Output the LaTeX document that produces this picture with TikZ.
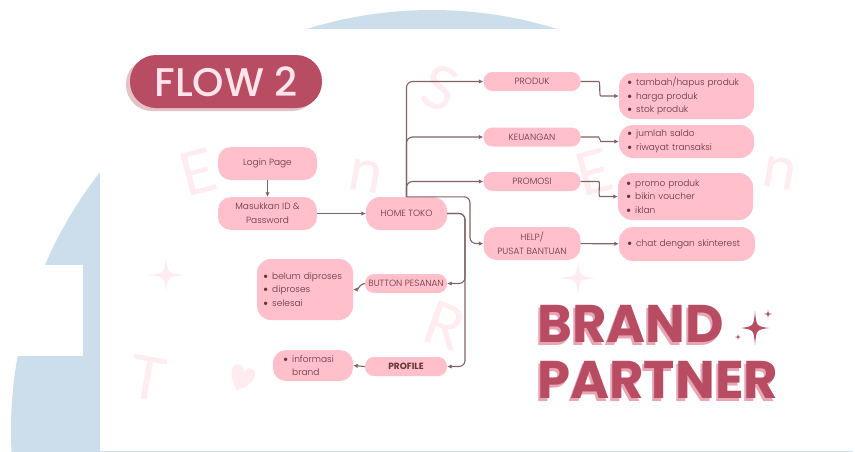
\documentclass[tikz,border=0pt]{standalone}
\usepackage{fontspec}
\setmainfont{Lato}
\newfontfamily\flowfont{Poppins}
\newfontfamily\flbullet{Lato}
\IfFontExistsTF{Poppins Light}{\newfontfamily\flbody{Poppins Light}}{\newfontfamily\flbody{Poppins}}
\IfFontExistsTF{Poppins Medium}{\newfontfamily\fltitle{Poppins Medium}}{\newfontfamily\fltitle{Poppins}}
\usetikzlibrary{arrows.meta,positioning}
\definecolor{flpink}{RGB}{255,191,203}
\definecolor{flrose}{RGB}{183,76,98}
\definecolor{flshade}{RGB}{226,196,200}
\definecolor{flpale}{RGB}{255,228,235}
\definecolor{flline}{RGB}{128,100,100}
\definecolor{fltext}{RGB}{100,55,55}
\definecolor{flblue}{RGB}{204,221,236}
\definecolor{flmarkc}{RGB}{254,236,240}
\definecolor{flbrandsh}{RGB}{232,165,180}
\newcommand{\flitem}[1]{{\flbullet\textbullet}\hspace{4pt}#1}
\tikzset{
  flnode/.style={fill=flpink, rounded corners=9pt, text=fltext, align=center,
    minimum width=97pt, minimum height=19pt, inner sep=1.5pt,
    font=\flbody\fontsize{9}{14}\selectfont},
  fllist/.style={fill=flpink, rounded corners=13pt, text=fltext, align=left,
    inner xsep=8pt, inner ysep=2pt, font=\flbody\fontsize{9}{13.7}\selectfont},
  flarr/.style={-{Latex[length=4.5pt,width=4.5pt]}, line width=1.1pt, draw=flline,
    rounded corners=6pt},
  flmark/.style={text=flmarkc, font=\fontsize{60}{60}\selectfont},
  sparkle/.pic={\fill (0,-1) .. controls (0.1,-0.1) .. (1,0) .. controls (0.1,0.1) .. (0,1)
    .. controls (-0.1,0.1) .. (-1,0) .. controls (-0.1,-0.1) .. cycle;}
}
\begin{document}
\begin{tikzpicture}[x=1pt, y=-1pt]
\useasboundingbox (0,0) rectangle (855,451);
\clip (0,0) rectangle (855,451);
% background
\fill[flblue] (432,431) circle[radius=421];
\fill[white] (100,29) rectangle (855,451);
\fill[white] (0,265) rectangle (83,356);
% faint letters behind
\foreach \wx/\wy/\wr/\wt [count=\wi] in {198/172/15/E, 366/176/-10/n, 440/88/-20/S,
    594/172/15/E, 780/173/-10/n, 445/326/-20/R, 148/378/-10/T}
  \node[flmark, rotate=\wr] (wm\wi) at (\wx,\wy) {\wt};
\pic[flmarkc, xscale=18, yscale=16] at (166,275) {sparkle};
\pic[flmarkc, xscale=18, yscale=16] at (578,278) {sparkle};
\fill[flmarkc, rotate around={-20:(242,377)}] (242,391) .. controls (228,381) and (227,366) .. (236,366)
  .. controls (240,366) and (242,369) .. (242,372) .. controls (242,369) and (244,366) .. (248,366)
  .. controls (257,366) and (256,381) .. cycle;

% title
\node[fill=flshade, rounded corners=26pt, minimum width=192pt, minimum height=53pt] (flowsh) at (222,84.5) {};
\node[fill=flrose, rounded corners=26pt, minimum width=192pt, minimum height=53pt,
  text=flpale, font=\fltitle\fontsize{40}{40}\selectfont] (flow) at (226,81.5) {FLOW 2};

% left column
\node[flnode, minimum width=99pt, minimum height=33pt, rounded corners=13pt] (login) at (267.5,163.5) {Login Page};
\node[flnode, minimum width=99pt, minimum height=33pt, rounded corners=13pt] (masuk) at (267.5,213.5) {Masukkan ID \&\\Password};
\node[flnode, minimum width=81pt, minimum height=33pt, rounded corners=14pt] (home) at (406.5,213.5) {HOME TOKO};
\node[flnode, minimum width=82pt] (pesan) at (406,283.5) {BUTTON PESANAN};
\node[flnode, minimum width=82pt, font=\flowfont\bfseries\fontsize{9}{11}\selectfont] (profil) at (406,366.5) {PROFILE};
\node[fllist, text width=84pt, inner xsep=6pt, minimum height=61pt, rounded corners=14pt] (lpesan) at (305,289.5)
  {\flitem{belum diproses}\\\flitem{diproses}\\\flitem{selesai}};
\node[fllist, text width=60pt, inner xsep=10pt, minimum height=31pt] (lprofil) at (313,365.5)
  {\flitem{informasi}\\\phantom{\flbullet\textbullet\hspace{4pt}}brand};

% middle column
\node[flnode] (produk) at (532,81.5) {PRODUK};
\node[flnode] (keu) at (532,137) {KEUANGAN};
\node[flnode] (promo) at (532,181.5) {PROMOSI};
\node[flnode, minimum height=33pt, rounded corners=13pt] (help) at (532,243.5) {HELP/\\PUSAT BANTUAN};

% right column
\node[fllist, text width=119pt, minimum height=46pt, rounded corners=14pt] (lproduk) at (686.5,96)
  {\flitem{tambah/hapus produk}\\\flitem{harga produk}\\\flitem{stok produk}};
\node[fllist, text width=119pt, minimum height=33pt, rounded corners=14pt] (lkeu) at (686.5,141.5)
  {\flitem{jumlah saldo}\\\flitem{riwayat transaksi}};
\node[fllist, text width=119pt, minimum height=47pt, rounded corners=14pt] (lpromo) at (685.5,196.5)
  {\flitem{promo produk}\\\flitem{bikin voucher}\\\flitem{iklan}};
\node[fllist, text width=120pt, minimum height=34pt, rounded corners=14pt] (lhelp) at (687,244)
  {\flitem{chat dengan skinterest}};

% brand partner
\node[anchor=base west, inner sep=0pt, text=flbrandsh, font=\flowfont\bfseries\fontsize{53}{53}\selectfont] (brandsh) at (535,345) {BRAND};
\node[anchor=base west, inner sep=0pt, text=flrose, font=\flowfont\bfseries\fontsize{53}{53}\selectfont] (brand) at (537,342) {BRAND};
\node[anchor=base west, inner sep=0pt, text=flbrandsh, font=\flowfont\bfseries\fontsize{53}{53}\selectfont] (partnersh) at (535,401) {PARTNER};
\node[anchor=base west, inner sep=0pt, text=flrose, font=\flowfont\bfseries\fontsize{53}{53}\selectfont] (partner) at (537,398) {PARTNER};
\pic[flrose, xscale=14, yscale=17] at (755,328) {sparkle};
\pic[flrose, xscale=4, yscale=5] at (768,314) {sparkle};
\pic[flrose, xscale=3, yscale=3] at (738,337) {sparkle};

% connectors
\coordinate (hbend) at (470,0);
\coordinate (rbend) at (465,0);
\draw[flarr] (login) -- (masuk);
\draw[flarr] (masuk) -- (home);
\draw[flarr] (home.north) |- (produk);
\draw[flarr] (home.north) |- (keu);
\draw[flarr] (home.north) |- (promo);
\draw[flarr] (home.north) -| (hbend |- help.west) -- (help.west);
\draw[flarr] (home.east) -| (rbend |- pesan.east) -- (pesan.east);
\draw[flarr] (home.east) -| (rbend |- profil.east) -- (profil.east);
\draw[flarr] (pesan.west) to[out=180,in=0] (lpesan.east);
\draw[flarr] (profil.west) -- (lprofil.east);
\draw[flarr] (produk.east) -- ++(12,0) to[out=0,in=180] ([xshift=-12pt]lproduk.west) -- (lproduk.west);
\draw[flarr] (keu.east) -- ++(12,0) to[out=0,in=180] ([xshift=-12pt]lkeu.west) -- (lkeu.west);
\draw[flarr] (promo.east) -- ++(12,0) to[out=0,in=180] ([xshift=-12pt]lpromo.west) -- (lpromo.west);
\draw[flarr] (help) -- (lhelp);
\end{tikzpicture}
\end{document}
